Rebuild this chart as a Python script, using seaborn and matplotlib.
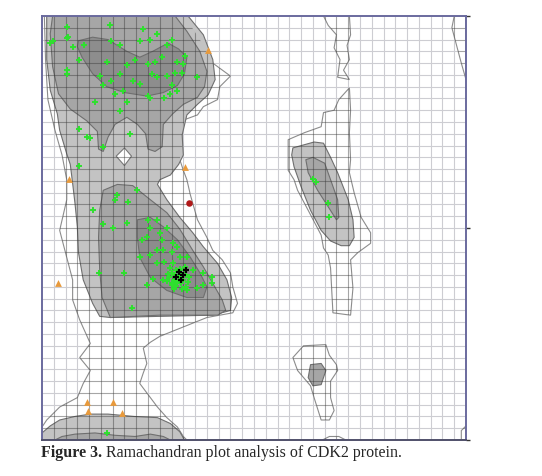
import numpy as np
import pandas as pd
import matplotlib
matplotlib.use("Agg")
import matplotlib.pyplot as plt
from matplotlib.patches import Polygon
import seaborn as sns

# ---- region outlines (phi, psi in degrees) ----
outline_left = [(-178, 180), (-59, 180), (-46, 160), (-35, 140), (-20, 129), (-29, 120),
                (-31, 109), (-43, 103), (-48, 96), (-59, 92), (-61, 81), (-61, 69),
                (-63, 58), (-60, 49), (-57, 41), (-54, 28), (-48, 7), (-40, -8),
                (-35, -19), (-27, -27), (-20, -38), (-18, -50), (-14, -64), (-18, -72),
                (-40, -76), (-60, -84), (-80, -92), (-88, -97), (-94, -102), (-91, -115),
                (-94, -123), (-97, -132), (-91, -140), (-82, -152), (-74, -161),
                (-65, -169), (-60, -177), (-57, -180), (-180, -180), (-180, -169),
                (-176, -163), (-165, -152), (-150, -144), (-145, -132), (-139, -121),
                (-148, -110), (-139, -98), (-148, -78), (-154, -61), (-154, -44),
                (-159, -25), (-165, -2), (-159, 24), (-159, 41), (-163, 62),
                (-169, 83), (-175, 109), (-177, 143)]
outline_strip = [(59, 180), (81, 180), (82, 164), (79, 155), (81, 143), (76, 134),
                 (81, 126), (71, 128), (73, 143), (68, 153), (70, 164), (63, 172)]
outline_lalpha = [(81, 119), (82, 100), (81, 81), (82, 58), (81, 47), (85, 30), (91, 9),
                  (99, -4), (99, -13), (88, -21), (82, -27), (84, -51), (82, -74),
                  (67, -72), (65, -34), (63, -23), (59, -17), (57, -6), (46, 15),
                  (37, 32), (34, 41), (29, 49), (29, 75), (43, 81), (57, 86), (59, 98),
                  (68, 100), (72, 109)]
outline_low = [(33, -110), (42, -100), (61, -99), (64, -108), (70, -116), (71, -121),
               (65, -130), (65, -144), (68, -155), (64, -163), (57, -163), (51, -144),
               (48, -134), (37, -121)]
outline_corner = [(170, 180), (168, 170), (172, 155), (176, 140), (180, 126), (180, 180)]
outline_bmid = [(58, -180), (64, -177), (72, -177), (78, -180)]
outline_bright = [(176, -180), (176, -172), (180, -168), (180, -180)]
hole = [(-110, 68), (-104, 61), (-110, 53), (-117, 61)]

light_left = [(-176, 180), (-56, 180), (-43, 164), (-35, 143), (-33, 126), (-39, 113),
              (-48, 105), (-57, 96), (-61, 79), (-60, 62), (-64, 54), (-71, 45),
              (-80, 41), (-82, 37), (-74, 24), (-63, 9), (-52, -4), (-43, -16),
              (-31, -30), (-23, -44), (-19, -59), (-20, -70), (-35, -74), (-80, -75),
              (-122, -76), (-131, -75), (-137, -64), (-145, -44), (-149, -21),
              (-150, 1), (-152, 21), (-154, 38), (-156, 54), (-159, 63), (-165, 83),
              (-167, 97), (-173, 117), (-176, 143)]
light_bottom = [(-180, -174), (-173, -168), (-165, -163), (-152, -160), (-139, -158),
                (-124, -158), (-102, -160), (-82, -161), (-71, -166), (-63, -173),
                (-59, -180), (-180, -180)]
light_lalpha = [(33, 68), (51, 73), (59, 72), (65, 60), (71, 47), (80, 24), (84, 7),
                (85, -8), (81, -15), (74, -15), (65, -11), (57, -2), (48, 15), (40, 35),
                (34, 52), (32, 62)]

mid_beta = [(-171, 180), (-67, 180), (-57, 167), (-46, 150), (-40, 133), (-42, 120),
            (-48, 111), (-60, 105), (-69, 97), (-77, 88), (-78, 69), (-84, 65),
            (-90, 67), (-92, 80), (-99, 88), (-108, 94), (-118, 88), (-124, 77),
            (-128, 65), (-132, 67), (-133, 82), (-142, 91), (-156, 101), (-166, 114),
            (-171, 137), (-173, 165)]
mid_alpha = [(-128, 32), (-116, 37), (-103, 36), (-88, 24), (-74, 13), (-63, -1),
             (-52, -19), (-43, -33), (-35, -47), (-27, -61), (-24, -70), (-31, -74),
             (-80, -74), (-122, -76), (-129, -59), (-131, -36), (-132, -8), (-131, 15)]
mid_bottom = [(-169, -180), (-163, -177), (-152, -175), (-135, -174), (-118, -176),
              (-101, -177), (-88, -175), (-77, -177), (-71, -180)]
mid_lalpha = [(44, 58), (50, 60), (60, 55), (65, 41), (71, 24), (72, 9), (70, 7),
              (63, 18), (54, 32), (46, 47)]
mid_low = [(48, -116), (57, -115), (61, -121), (57, -133), (50, -134), (46, -127)]

core_beta = [(-149, 159), (-137, 162), (-124, 160), (-108, 150), (-97, 145), (-86, 150),
             (-73, 157), (-64, 152), (-57, 145), (-59, 131), (-65, 121), (-77, 115),
             (-91, 112), (-110, 115), (-125, 120), (-137, 131), (-146, 145), (-150, 154)]
core_alpha = [(-99, 7), (-88, 9), (-77, 1), (-65, -10), (-54, -25), (-46, -38),
              (-40, -50), (-43, -59), (-57, -59), (-74, -53), (-88, -42), (-97, -25),
              (-99, -8)]

# ---- residues ----
green_phi = [-159, -122, -94, -82, -171, -159, -144, -121, -114, -97, -88, -74, -70, -59,
             -65, -60, -78, -84, -90, -101, -108, -125, -149, -154, -131, -114, -121,
             -103, -97, -87, -82, -74, -67, -61, -48, -70, -65, -76, -88, -111, -118,
             -128, -159, -135, -108, -114, -90, -71, -149, -142, -139, -128, -105, -149,
             -158, -173, -159, -118,
             -116, -107, -99, -137, -128, -120, -108, -90, -82, -88, -80, -74, -95, -91,
             -78, -69, -65, -82, -77, -97, -88, -70, -63, -57, -82, -76, -69, -59, -52,
             -43, -36, -36, -43, -48, -57, -70, -77, -86, -91, -132, -110, -104,
             -70, -66, -62, -58, -72, -68, -64, -60, -56, -70, -66, -62, -58, -74, -67,
             -63, -71, -59, -65, -61, -68, -55, -73, -64,
             -125, 50, 53, 63, 64]
green_psi = [171, 172, 169, 165, 159, 161, 155, 159, 155, 159, 160, 155, 160, 146,
             141, 139, 145, 141, 139, 143, 138, 141, 143, 154, 129, 131, 125,
             125, 122, 131, 128, 129, 132, 132, 128, 121, 116, 110, 110, 116, 114,
             121, 131, 107, 107, 99, 112, 114, 84, 77, 76, 69, 80, 53,
             162, 157, 134, 24,
             28, 22, 32, 15, 3, 0, 4, 7, 7, 0, -4, 0, -10, -8,
             -10, -13, -16, -19, -19, -25, -23, -20, -25, -25, -30, -29, -30, -33, -36,
             -38, -42, -47, -48, -51, -53, -47, -44, -43, -48, -38, -38, -68,
             -38, -36, -38, -40, -42, -44, -41, -44, -46, -48, -49, -47, -50, -45, -40,
             -35, -34, -36, -46, -52, -52, -42, -39, -44,
             -174, 42, 39, 21, 9]
black_phi = [-64, -60, -62, -58, -66]
black_psi = [-37, -40, -44, -36, -42]
orange_phi = [-39, -59, -157, -166, -142, -141, -120, -112]
orange_psi = [151, 52, 42, -47, -148, -155, -148, -157]
red_phi = [-55]
red_psi = [21]

sns.set_style("white")
fig = plt.figure(figsize=(5.42, 4.76), dpi=100)
ax = fig.add_axes([0.0775, 0.0756, 0.7823, 0.8908])

grid = np.arange(-170, 180, 10)
ax.vlines(grid, -180, 180, color="#cdcdd2", lw=0.8, zorder=0.5)
ax.hlines(grid, -180, 180, color="#cdcdd2", lw=0.8, zorder=0.5)

outlines = [outline_left, outline_strip, outline_lalpha, outline_low,
            outline_corner, outline_bmid, outline_bright]
outer_patches = []
for verts in outlines:
    p = Polygon(verts, closed=True, facecolor="white", edgecolor="#8c8c8c", lw=0.8, zorder=1)
    ax.add_patch(p)
    outer_patches.append(p)

levels = [([light_left, light_bottom, light_lalpha], "#c3c3c3", 2),
          ([mid_beta, mid_alpha, mid_bottom, mid_lalpha, mid_low], "#a6a6a6", 3),
          ([core_beta, core_alpha], "#8d8d8d", 4)]
for polys, colour, z in levels:
    for verts in polys:
        ax.add_patch(Polygon(verts, closed=True, facecolor=colour, edgecolor="#6f6f6f",
                             lw=0.8, zorder=z))
ax.add_patch(Polygon(hole, closed=True, facecolor="white", edgecolor="#777777",
                     lw=0.8, zorder=4.5))

# darker grid inside the allowed regions
for p in outer_patches:
    for lines in (ax.vlines(grid, -180, 180, color="#3a3a3a", lw=0.8, alpha=0.45, zorder=5),
                  ax.hlines(grid, -180, 180, color="#3a3a3a", lw=0.8, alpha=0.45, zorder=5)):
        lines.set_clip_path(p)

green = pd.DataFrame({"phi": green_phi, "psi": green_psi})
sns.scatterplot(data=green, x="phi", y="psi", marker="+", color="#2ee02e", s=22,
                linewidth=1.4, ax=ax, zorder=6)
sns.scatterplot(x=black_phi, y=black_psi, marker="+", color="black", s=22,
                linewidth=1.6, ax=ax, zorder=7)
sns.scatterplot(x=orange_phi, y=orange_psi, marker="^", color="#e89a3c", s=24,
                linewidth=0, ax=ax, zorder=6)
sns.scatterplot(x=red_phi, y=red_psi, marker="o", color="#b01818", s=22,
                linewidth=0, ax=ax, zorder=6)

ax.set_xlim(-180, 180)
ax.set_ylim(-180, 180)
ax.set_xlabel("")
ax.set_ylabel("")
ax.set_xticks([-180, 0, 180])
ax.set_xticklabels([])
ax.yaxis.tick_right()
ax.set_yticks([-180, 0, 180])
ax.set_yticklabels([])
ax.tick_params(length=3, width=1, color="#333333", direction="out")
for side in ax.spines.values():
    side.set_color("#6a6a9e")
    side.set_linewidth(1.4)
    side.set_zorder(8)
ax.spines["bottom"].set_color("#50506a")

t1 = fig.text(0.0757, 0.048, "Figure 3.", fontsize=11.5, fontweight="bold",
              family="Liberation Serif", va="center")
ax.annotate(" Ramachandran plot analysis of CDK2 protein.", xy=(1, 0.5), xycoords=t1,
            va="center", ha="left", fontsize=11.5, family="Liberation Serif",
            annotation_clip=False)

fig.savefig("out.png", dpi=100, facecolor="white")
